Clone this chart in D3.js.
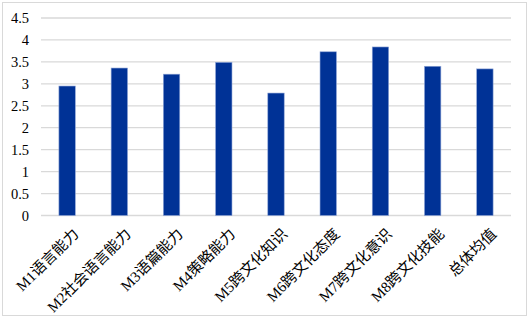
<!DOCTYPE html>
<html>
<head>
<meta charset="utf-8">
<script src="https://cdn.jsdelivr.net/npm/d3@7"></script>
<style>
  body { margin: 0; background: #fff; }
</style>
</head>
<body>
<div id="chart"></div>
<script>
const categories = ["M1语言能力", "M2社会语言能力", "M3语篇能力", "M4策略能力", "M5跨文化知识",
    "M6跨文化态度", "M7跨文化意识", "M8跨文化技能", "总体均值"];
const values = [2.95, 3.36, 3.22, 3.49, 2.79, 3.73, 3.84, 3.40, 3.34];
const yTicks = [0, 0.5, 1, 1.5, 2, 2.5, 3, 3.5, 4, 4.5];

const width = 529, height = 318;
const margin = { top: 18, right: 18, bottom: 102, left: 41 };
const serif = "'Liberation Serif', 'Noto Sans CJK SC', serif";

const svg = d3.select("#chart").append("svg")
    .attr("width", width).attr("height", height);

// outer chart border
svg.append("rect").attr("x", 2.5).attr("y", 2.5)
    .attr("width", width - 5).attr("height", height - 5)
    .attr("fill", "#fff").attr("stroke", "#d9d9d9");

const x = d3.scaleBand()
    .domain(categories)
    .range([margin.left, width - margin.right])
    .paddingInner(0.686)
    .paddingOuter(0.343);

const y = d3.scaleLinear()
    .domain([0, 4.5])
    .range([215.5, margin.top]);

// gridlines
svg.append("g")
    .selectAll("line")
    .data(yTicks)
    .join("line")
    .attr("x1", margin.left).attr("x2", width - margin.right)
    .attr("y1", d => y(d)).attr("y2", d => y(d))
    .attr("stroke", "#d9d9d9").attr("stroke-width", 1.3);

// y axis labels
const yAxis = svg.append("g")
    .attr("transform", `translate(${margin.left},0)`)
    .call(d3.axisLeft(y).tickValues(yTicks).tickSize(0).tickPadding(12).tickFormat(d3.format("")));
yAxis.select(".domain").remove();
yAxis.attr("font-family", serif).attr("font-size", 14.5);
yAxis.selectAll("text").attr("fill", "#000");

// bars
svg.append("g")
    .selectAll("rect")
    .data(values)
    .join("rect")
    .attr("x", (d, i) => x(categories[i]))
    .attr("y", d => y(d))
    .attr("width", x.bandwidth())
    .attr("height", d => y(0) - y(d))
    .attr("fill", "#003296")
    .attr("stroke", "#8ea4d6").attr("stroke-width", 0.6);

// x axis labels, rotated
svg.append("g")
    .selectAll("text")
    .data(categories)
    .join("text")
    .attr("transform", d => `translate(${x(d) + x.bandwidth() / 2 + 5},${y(0) + 12}) rotate(-45)`)
    .attr("text-anchor", "end")
    .attr("dy", "0.7em")
    .attr("font-family", serif)
    .attr("font-size", 15)
    .text(d => d);
</script>
</body>
</html>
